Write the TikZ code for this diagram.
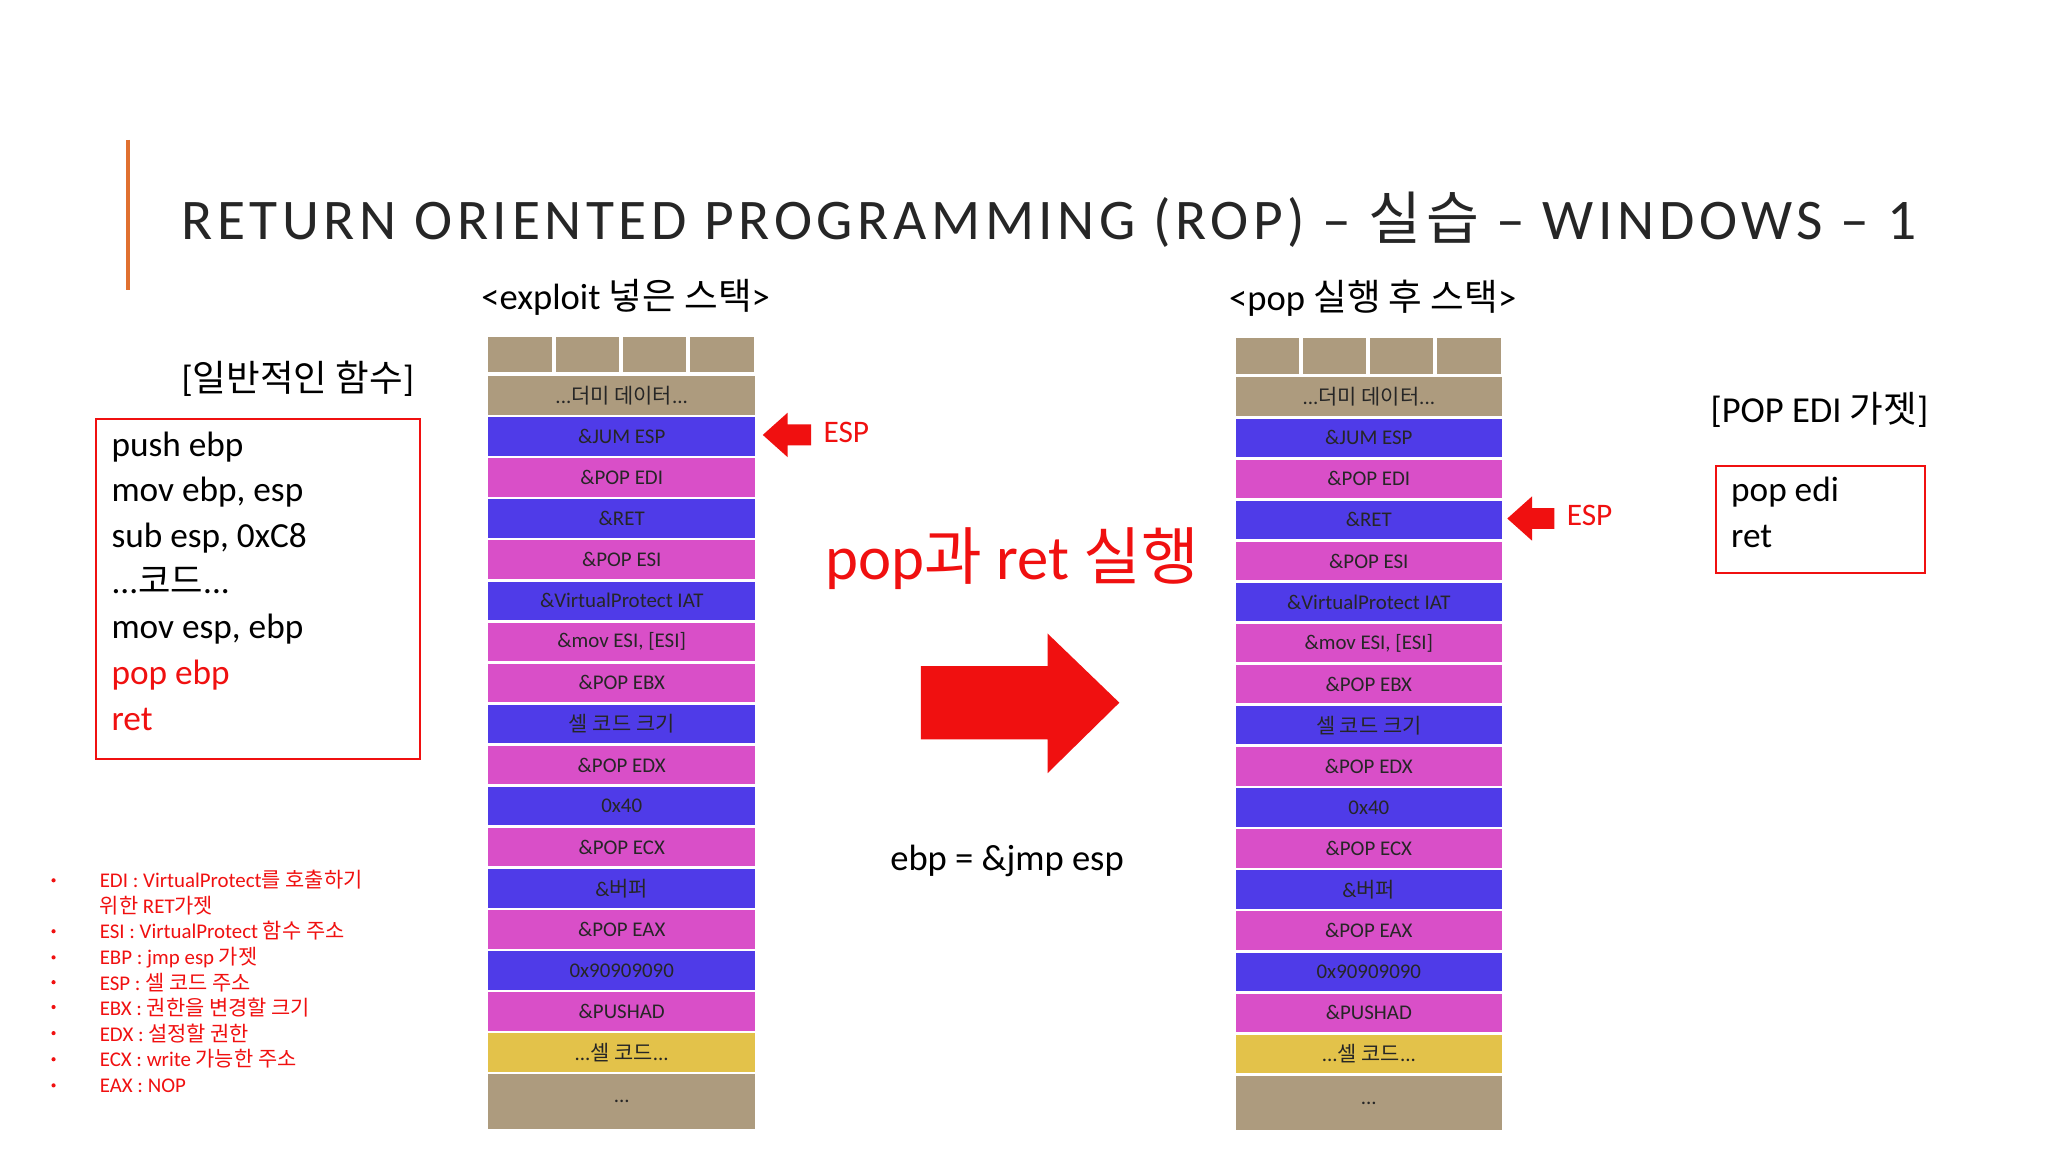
\documentclass[tikz,border=0pt]{standalone}
\usepackage{fontspec}
\setmainfont{Carlito}
\newfontfamily\kr{Noto Sans CJK KR}
\newfontfamily\titlefont[LetterSpace=8]{Carlito}
\newfontfamily\titlekr[LetterSpace=8]{Noto Sans CJK KR}
\definecolor{tan}{HTML}{AD9B7E}
\definecolor{sblue}{HTML}{4F3BE8}
\definecolor{spink}{HTML}{D94FC8}
\definecolor{syel}{HTML}{E3C24A}
\definecolor{ored}{HTML}{E07030}
\definecolor{rred}{HTML}{F01010}
\tikzset{cell/.style={draw=white,line width=1pt,text=black!85,font=\fontsize{8}{9}\selectfont,inner sep=0pt},
 hd/.style={font=\fontsize{14}{16}\selectfont},
 code/.style={font=\fontsize{13.5}{17.5}\selectfont,align=left,anchor=north west,inner sep=0pt},
 leg/.style={font=\fontsize{8}{9.8}\selectfont,text=rred,align=left,anchor=north west,inner sep=0pt}}
\newcommand{\stk}[3]{%
\foreach \i in {0,1,2,3}{\node[cell,fill=tan,minimum width=25.25pt,minimum height=14.5pt,anchor=north west] (#3t\i) at ({#1+\i*51.5},{256+#2}) {};}
\foreach [count=\k] \c/\t in {tan/{...{\kr 더미 데이터}...},sblue/\&JUM ESP,spink/\&POP EDI,sblue/\&RET,spink/\&POP ESI,sblue/\&VirtualProtect IAT,spink/{\&mov ESI, [ESI]},spink/\&POP EBX,sblue/{\kr 셀 코드 크기},spink/\&POP EDX,sblue/0x40,spink/\&POP ECX,sblue/{\&{\kr 버퍼}},spink/\&POP EAX,sblue/0x90909090,spink/\&PUSHAD,syel/{...{\kr 셀 코드}...}}{
\node[cell,fill=\c,minimum width=103pt,minimum height=15.7pt,anchor=north west] (#3r\k) at (#1,{286+#2+(\k-1)*31.45}) {\t};}
\node[cell,fill=tan,minimum width=103pt,minimum height=22pt,anchor=north west] (#3end) at (#1,{820.5+#2}) {...};
}
\begin{document}
\begin{tikzpicture}[x=0.5pt,y=-0.5pt]
\useasboundingbox[fill=white] (0,0) rectangle (1568,882);
\draw[ored,line width=1.2pt] (98,107) coordinate (l1) -- (98,222) coordinate (l2);
\node[font=\fontsize{22}{24}\selectfont,text=black!85] (title) at (803,168) {\titlefont RETURN ORIENTED PROGRAMMING (ROP) – {\titlekr 실습} – WINDOWS – 1};
\node[hd] (h1) at (479,228) {<exploit {\kr 넣은 스택}>};
\node[hd] (h2) at (1051,228) {<pop {\kr 실행 후 스택}>};
\node[hd] (h3) at (228,290) {[{\kr 일반적인 함수}]};
\node[hd] (h4) at (1393,314) {[POP EDI {\kr 가젯}]};
\node[draw=rred,line width=0.8pt,minimum width=124pt,minimum height=130pt,anchor=north west] (box1) at (73,320) {};
\node[code] (c1) at (85,330) {push ebp\\mov ebp, esp\\sub esp, 0xC8\\...{\kr 코드}...\\mov esp, ebp\\\textcolor{rred}{pop ebp}\\\textcolor{rred}{ret}};
\node[draw=rred,line width=0.8pt,minimum width=80pt,minimum height=41pt,anchor=north west] (box2) at (1313,356) {};
\node[code] (c2) at (1325,365) {pop edi\\ret};
\stk{372}{0}{a}
\stk{944}{1}{b}
\node[text=rred,font=\fontsize{12}{14}\selectfont] (e1) at (648,331) {ESP};
\node[text=rred,font=\fontsize{12}{14}\selectfont] (e2) at (1217,395) {ESP};
\fill[rred] (584,333) coordinate (p1) -- (603,316) -- (603,325) -- (621,325) -- (621,341) -- (603,341) -- (603,350) -- cycle;
\fill[rred] (1154,397) coordinate (p2) -- (1173,380) -- (1173,389) -- (1190,389) -- (1190,405) -- (1173,405) -- (1173,414) -- cycle;
\node[text=rred,font=\fontsize{24}{26}\selectfont] (mid) at (775,428) {pop{\kr 과} ret {\kr 실행}};
\fill[rred] (705,510) coordinate (a0) -- (802,510) -- (802,485) -- (857,538) -- (802,592) -- (802,566) -- (705,566) -- cycle;
\node[hd] (ebp) at (771,659) {ebp = \&jmp esp};
\node[leg] (lg) at (76,666) {EDI : VirtualProtect{\kr 를 호출하기}\\{\kr 위한} RET{\kr 가젯}\\ESI : VirtualProtect {\kr 함수 주소}\\EBP : jmp esp {\kr 가젯}\\ESP : {\kr 셀 코드 주소}\\EBX : {\kr 권한을 변경할 크기}\\EDX : {\kr 설정할 권한}\\ECX : write {\kr 가능한 주소}\\EAX : NOP};
\foreach \yy [count=\n] in {674,713,733,752,771,791,811,831}{\fill[rred] (41,\yy) circle (1.6) coordinate (bul\n);}
\end{tikzpicture}
\end{document}
